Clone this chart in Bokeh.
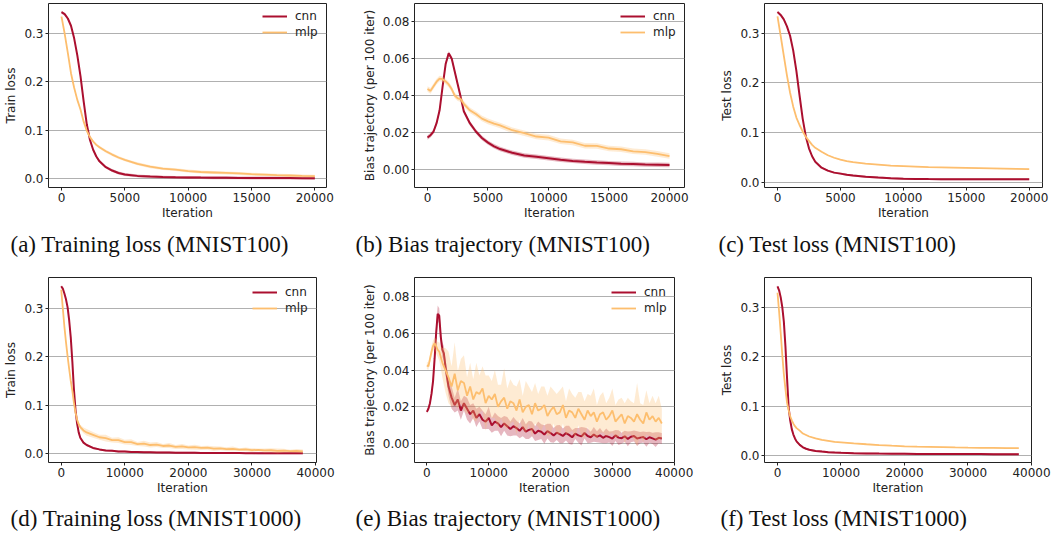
from bokeh.plotting import figure
from bokeh.layouts import column, row
from bokeh.models import Range1d, FixedTicker, NumeralTickFormatter, Title
from bokeh.embed import file_html
from bokeh.resources import INLINE

# ---------------- data ----------------
X100 = [0, 250, 500, 750, 1000, 1250, 1500, 1750, 2000, 2250, 2500, 2750, 3000,
        3500, 4000, 4500, 5000, 5500, 6000,
        7000, 8000, 9000, 10000, 11000, 12000, 13000, 14000, 15000, 16000, 17000, 18000, 19000, 20000]

A_CNN = [0.344, 0.340, 0.331, 0.316, 0.290, 0.255, 0.212, 0.160, 0.112, 0.080, 0.060, 0.046, 0.036,
         0.024, 0.017, 0.012, 0.009, 0.0075, 0.006,
         0.0045, 0.0035, 0.003, 0.0027, 0.0024, 0.0022, 0.002, 0.0018, 0.0017, 0.0016, 0.0015, 0.0014, 0.0013, 0.0012]
A_MLP = [0.335, 0.300, 0.260, 0.218, 0.188, 0.163, 0.143, 0.118, 0.099, 0.086, 0.077, 0.070, 0.065,
         0.057, 0.050, 0.044, 0.039, 0.035, 0.031,
         0.025, 0.021, 0.019, 0.016, 0.014, 0.013, 0.012, 0.011, 0.0095, 0.0085, 0.0075, 0.0068, 0.006, 0.0055]

B_CNN = [0.0173, 0.0185, 0.0205, 0.025, 0.032, 0.045, 0.057, 0.0628, 0.060, 0.053, 0.046, 0.039, 0.0315,
         0.025, 0.0205, 0.017, 0.0145, 0.0125, 0.011,
         0.009, 0.0075, 0.0068, 0.006, 0.0052, 0.0046, 0.0041, 0.0037, 0.0034, 0.0031, 0.0029, 0.0026, 0.0025, 0.0024]
B_MLP = [0.0435, 0.0425, 0.045, 0.0475, 0.0492, 0.0488, 0.0476, 0.046, 0.0435, 0.040, 0.0385, 0.038, 0.0355,
         0.032, 0.030, 0.0275, 0.026, 0.0248, 0.0238,
         0.0212, 0.0196, 0.0178, 0.0172, 0.0152, 0.0146, 0.0128, 0.0127, 0.0113, 0.0109, 0.0098, 0.0094, 0.0084, 0.0072]

C_CNN = [0.343, 0.337, 0.328, 0.314, 0.295, 0.265, 0.224, 0.175, 0.128, 0.092, 0.068, 0.052, 0.041,
         0.029, 0.023, 0.019, 0.017, 0.0145, 0.013,
         0.0105, 0.009, 0.0078, 0.0068, 0.0063, 0.006, 0.0058, 0.0057, 0.0056, 0.0055, 0.0055, 0.0054, 0.0054, 0.0054]
C_MLP = [0.334, 0.295, 0.255, 0.215, 0.180, 0.152, 0.130, 0.115, 0.102, 0.091, 0.083, 0.075, 0.069,
         0.061, 0.054, 0.049, 0.045, 0.042, 0.040,
         0.037, 0.035, 0.033, 0.032, 0.031, 0.030, 0.0295, 0.029, 0.0285, 0.028, 0.0275, 0.027, 0.0265, 0.026]

XD = [0, 250, 500, 750, 1000, 1250, 1500, 1750, 2000, 2250, 2500, 2750, 3000,
      3500, 4000,
      5000, 6000, 7000, 8000, 9000, 10000, 11000, 12000, 13000, 14000,
      15000, 16000, 17000, 18000, 19000, 20000, 21000, 22000, 23000, 24000,
      25000, 26000, 27000, 28000, 29000, 30000, 31000, 32000, 33000, 34000,
      35000, 36000, 37000, 38000]
D_CNN = [0.345, 0.340, 0.330, 0.318, 0.302, 0.275, 0.240, 0.190, 0.132, 0.090, 0.062, 0.044, 0.033,
         0.023, 0.018,
         0.012, 0.009, 0.0068, 0.0062, 0.0048, 0.0047, 0.0038, 0.0037, 0.003, 0.0032,
         0.0028, 0.0026, 0.0024, 0.0022, 0.0021, 0.002, 0.0019, 0.0018, 0.0017, 0.0016,
         0.0015, 0.0015, 0.0014, 0.0014, 0.0013, 0.0013, 0.0012, 0.0012, 0.0012, 0.0011,
         0.0011, 0.0011, 0.001, 0.001]
D_MLP = [0.338, 0.300, 0.262, 0.230, 0.201, 0.175, 0.150, 0.130, 0.105, 0.085, 0.070, 0.061, 0.055,
         0.048, 0.044,
         0.039, 0.034, 0.032, 0.028, 0.028, 0.024, 0.024, 0.020, 0.021, 0.018,
         0.019, 0.016, 0.017, 0.014, 0.015, 0.013, 0.0135, 0.012, 0.0125, 0.0105,
         0.011, 0.0095, 0.010, 0.0085, 0.009, 0.0075, 0.008, 0.0068, 0.0072, 0.006,
         0.0065, 0.0055, 0.006, 0.0048]
D_MLP_SPREAD = [0.001, 0.002, 0.002, 0.002, 0.002, 0.002, 0.003, 0.003, 0.004, 0.004, 0.005, 0.005, 0.005,
                0.006, 0.007,
                0.006, 0.005, 0.007, 0.005, 0.006, 0.005, 0.006, 0.004, 0.006, 0.005,
                0.005, 0.004, 0.005, 0.004, 0.005, 0.004, 0.005, 0.004, 0.004, 0.005,
                0.004, 0.004, 0.005, 0.003, 0.004, 0.004, 0.003, 0.004, 0.004, 0.005,
                0.004, 0.003, 0.004, 0.004]

XE = [0, 250, 500, 750, 1000, 1250, 1500, 1750, 2000, 2250, 2500, 2750, 3000,
      3500, 4000, 4500, 5000, 5500, 6000, 6500, 7000, 7500, 8000,
      8500, 9000, 9500, 10000, 10500, 11000, 11500, 12000, 12500, 13000,
      13500, 14000, 14500, 15000, 15500, 16000, 16500, 17000, 17500, 18000,
      18500, 19000, 19500, 20000, 20500, 21000, 21500, 22000, 22500, 23000,
      23500, 24000, 24500, 25000, 25500, 26000, 26500, 27000, 27500, 28000,
      28500, 29000, 29500, 30000, 30500, 31000, 31500, 32000, 32500, 33000,
      33500, 34000, 34500, 35000, 35500, 36000, 36500, 37000, 37500, 38000]
E_CNN = [0.0173, 0.019, 0.022, 0.027, 0.034, 0.046, 0.060, 0.0705, 0.0695, 0.058, 0.051, 0.049, 0.042,
         0.031, 0.025, 0.021, 0.024, 0.018, 0.022, 0.019, 0.016, 0.018, 0.014,
         0.016, 0.013, 0.012, 0.014, 0.010, 0.012, 0.011, 0.009, 0.011, 0.0095,
         0.008, 0.0095, 0.0085, 0.007, 0.009, 0.0065, 0.0075, 0.008, 0.0055, 0.007,
         0.0065, 0.005, 0.0068, 0.0058, 0.0045, 0.006, 0.0052, 0.0042, 0.0058, 0.0048,
         0.0035, 0.0055, 0.0045, 0.004, 0.0058, 0.0042, 0.0035, 0.005, 0.0038, 0.0045,
         0.0032, 0.0042, 0.0036, 0.0028, 0.0045, 0.0033, 0.003, 0.004, 0.0026, 0.0038,
         0.0042, 0.0028, 0.0033, 0.0036, 0.0024, 0.0035, 0.0029, 0.0022, 0.0032, 0.0028]
E_MLP = [0.0425, 0.042, 0.046, 0.050, 0.053, 0.0545, 0.053, 0.051, 0.050, 0.047, 0.044, 0.042, 0.040,
         0.036, 0.031, 0.038, 0.029, 0.034, 0.033, 0.026, 0.031, 0.024, 0.028,
         0.027, 0.030, 0.022, 0.026, 0.024, 0.027, 0.020, 0.023, 0.025, 0.019,
         0.023, 0.022, 0.018, 0.024, 0.017, 0.020, 0.021, 0.016, 0.022, 0.018,
         0.019, 0.021, 0.015, 0.018, 0.020, 0.016, 0.017, 0.021, 0.014, 0.018,
         0.017, 0.014, 0.019, 0.016, 0.013, 0.018, 0.015, 0.017, 0.012, 0.016,
         0.017, 0.013, 0.015, 0.018, 0.012, 0.014, 0.016, 0.011, 0.015, 0.014,
         0.012, 0.016, 0.013, 0.011, 0.017, 0.013, 0.015, 0.012, 0.014, 0.011]
E_CNN_SPREAD = [0.001, 0.001, 0.0015, 0.002, 0.003, 0.004, 0.005, 0.0045, 0.004, 0.004, 0.004, 0.004, 0.004,
                0.005, 0.006, 0.004, 0.006, 0.005, 0.004, 0.006, 0.005, 0.004, 0.005,
                0.004, 0.005, 0.004, 0.006, 0.004, 0.005, 0.004, 0.005, 0.004, 0.005,
                0.004, 0.005, 0.004, 0.004, 0.005, 0.004, 0.005, 0.004, 0.004, 0.005,
                0.004, 0.005, 0.004, 0.005, 0.004, 0.004, 0.005, 0.004, 0.004, 0.005,
                0.004, 0.003, 0.004, 0.005, 0.003, 0.004, 0.003, 0.004, 0.003, 0.004,
                0.003, 0.004, 0.003, 0.004, 0.003, 0.004, 0.003, 0.003, 0.004, 0.003,
                0.003, 0.004, 0.003, 0.003, 0.004, 0.003, 0.003, 0.004, 0.003, 0.003]
E_MLP_SPREAD = [0.002, 0.002, 0.002, 0.003, 0.003, 0.003, 0.004, 0.004, 0.005, 0.006, 0.008, 0.010, 0.012,
                0.014, 0.011, 0.017, 0.010, 0.012, 0.015, 0.010, 0.013, 0.011, 0.016,
                0.010, 0.012, 0.015, 0.011, 0.010, 0.013, 0.012, 0.009, 0.016, 0.011,
                0.012, 0.010, 0.013, 0.011, 0.009, 0.014, 0.010, 0.012, 0.011, 0.009,
                0.012, 0.010, 0.011, 0.013, 0.009, 0.011, 0.012, 0.010, 0.009, 0.012,
                0.010, 0.011, 0.009, 0.012, 0.010, 0.009, 0.011, 0.013, 0.009, 0.010,
                0.011, 0.009, 0.010, 0.012, 0.009, 0.010, 0.009, 0.011, 0.010, 0.009,
                0.010, 0.017, 0.009, 0.010, 0.012, 0.009, 0.011, 0.010, 0.012, 0.008]

XF = [0, 250, 500, 750, 1000, 1250, 1500, 1750, 2000, 2250, 2500, 2750, 3000,
      3500, 4000, 4500, 5000, 6000, 7000, 8000, 9000, 10000,
      12000, 14000, 16000, 18000, 20000, 22000, 24000, 26000, 28000, 30000, 32000, 34000, 36000, 38000]
F_CNN = [0.344, 0.336, 0.322, 0.302, 0.272, 0.222, 0.158, 0.098, 0.071, 0.053, 0.042, 0.034, 0.028,
         0.021, 0.016, 0.013, 0.011, 0.0085, 0.0072, 0.006, 0.0052, 0.0047,
         0.004, 0.0035, 0.0031, 0.0029, 0.0027, 0.0025, 0.0024, 0.0023, 0.0022, 0.0021, 0.0021, 0.002, 0.002, 0.002]
F_MLP = [0.331, 0.293, 0.250, 0.205, 0.165, 0.135, 0.107, 0.092, 0.079, 0.071, 0.064, 0.059, 0.055,
         0.050, 0.044, 0.041, 0.038, 0.034, 0.031, 0.029, 0.027, 0.026,
         0.024, 0.0222, 0.0205, 0.0192, 0.018, 0.0172, 0.0167, 0.0162, 0.0157, 0.0153, 0.015, 0.0147, 0.0144, 0.0142]

CAPTIONS = ["(a) Training loss (MNIST100)", "(b) Bias trajectory (MNIST100)", "(c) Test loss (MNIST100)",
            "(d) Training loss (MNIST1000)", "(e) Bias trajectory (MNIST1000)", "(f) Test loss (MNIST1000)"]
YLABELS = ["Train loss", "Bias trajectory (per 100 iter)", "Test loss"]
SERIES = ["cnn", "mlp"]

CNN_COLOR = "#ab0f2f"
MLP_COLOR = "#fdbe6e"
FONT = "DejaVu Sans"


def band(vals, spread):
    if isinstance(spread, (int, float)):
        spread = [spread] * len(vals)
    return [v - s for v, s in zip(vals, spread)], [v + s for v, s in zip(vals, spread)]


def panel(x, cnn, mlp, cnn_sp, mlp_sp, ylabel, caption, xr, yr, yticks, yfmt, xticks,
          w, h, bl, br, bt, bb, cap_off, cap_standoff, legend_at):
    p = figure(width=w, height=h, output_backend="svg", toolbar_location=None,
               x_range=Range1d(*xr), y_range=Range1d(*yr),
               min_border_left=bl, min_border_right=br, min_border_top=bt, min_border_bottom=bb,
               background_fill_color="white", border_fill_color="white")
    p.outline_line_color = "#222222"
    p.outline_line_width = 1
    p.xgrid.grid_line_color = None
    p.ygrid.grid_line_color = "#b0b0b0"
    p.ygrid.grid_line_width = 1
    p.ygrid.ticker = FixedTicker(ticks=yticks)
    p.yaxis.ticker = FixedTicker(ticks=yticks)
    p.xaxis.ticker = FixedTicker(ticks=xticks)
    p.yaxis.formatter = NumeralTickFormatter(format=yfmt)
    p.xaxis.formatter = NumeralTickFormatter(format="0")
    for ax in (p.xaxis, p.yaxis):
        ax.axis_line_color = None
        ax.major_tick_out = 3
        ax.major_tick_in = 0
        ax.minor_tick_line_color = None
        ax.major_tick_line_color = "#222222"
        ax.major_label_text_font = FONT
        ax.major_label_text_font_size = "12px"
        ax.major_label_text_color = "#222222"
        ax.axis_label_text_font = FONT
        ax.axis_label_text_font_size = "12px"
        ax.axis_label_text_font_style = "normal"
        ax.axis_label_text_color = "#222222"
        ax.major_label_standoff = 2
    p.xaxis.axis_label = "Iteration"
    p.xaxis.axis_label_standoff = 1
    p.yaxis.axis_label = ylabel
    p.yaxis.axis_label_standoff = 3

    clo, chi = band(cnn, cnn_sp)
    mlo, mhi = band(mlp, mlp_sp)
    p.varea(x=x, y1=clo, y2=chi, fill_color=CNN_COLOR, fill_alpha=0.3)
    kw_c = dict(legend_label=SERIES[0]) if legend_at else {}
    kw_m = dict(legend_label=SERIES[1]) if legend_at else {}
    p.line(x, cnn, line_color=CNN_COLOR, line_width=2, **kw_c)
    p.varea(x=x, y1=mlo, y2=mhi, fill_color=MLP_COLOR, fill_alpha=0.3)
    p.line(x, mlp, line_color=MLP_COLOR, line_width=1.8, **kw_m)
    if legend_at:
        lg = p.legend[0]
        lg.location = legend_at
        lg.border_line_color = None
        lg.background_fill_alpha = 0
        lg.glyph_width = 25
        lg.glyph_height = 16
        lg.label_height = 16
        lg.spacing = 0
        lg.label_standoff = 8
        lg.margin = 0
        lg.padding = 0
        lg.label_text_font = FONT
        lg.label_text_font_size = "12px"
        lg.label_text_color = "#222222"

    cap = Title(text=caption, align="left", offset=cap_off, standoff=cap_standoff,
                text_font="Liberation Serif", text_font_size="23px",
                text_font_style="normal", text_color="#111111")
    p.add_layout(cap, "below")
    return p


YT_LOSS = [0.0, 0.1, 0.2, 0.3]
YT_BIAS = [0.0, 0.02, 0.04, 0.06, 0.08]
XT_100 = [0, 5000, 10000, 15000, 20000]
XT_1000 = [0, 10000, 20000, 30000, 40000]

# row 1: y 0..263, frame 3..188 ; row 2: y 263..537, frame 277..462
pa = panel(X100, A_CNN, A_MLP, 0.003, 0.003, YLABELS[0], CAPTIONS[0], (-1026, 20923), (-0.018, 0.362),
           YT_LOSS, "0.0", XT_100, 350, 263, 48, 24, 3, 75, -38, 14, (214, 147))
pb = panel(X100, B_CNN, B_MLP, 0.0012, 0.0015, YLABELS[1], CAPTIONS[1], (-1074, 21240), (-0.0098, 0.0898),
           YT_BIAS, "0.00", XT_100, 350, 263, 64, 16, 3, 75, -59, 14, (206, 147))
pc = panel(X100, C_CNN, C_MLP, 0.002, 0.001, YLABELS[2], CAPTIONS[2], (-1033, 21057), (-0.011, 0.360),
           YT_LOSS, "0.0", XT_100, 354, 263, 64, 12, 3, 75, -46, 14, None)
pd_ = panel(XD, D_CNN, D_MLP, 0.002, D_MLP_SPREAD, YLABELS[0], CAPTIONS[3], (-2000, 40150), (-0.018, 0.363),
            YT_LOSS, "0.0", XT_1000, 350, 274, 48, 34, 14, 75, -38, 13, (204, 146))
pe = panel(XE, E_CNN, E_MLP, E_CNN_SPREAD, E_MLP_SPREAD, YLABELS[1], CAPTIONS[4], (-2000, 40050), (-0.0102, 0.0902),
           YT_BIAS, "0.00", XT_1000, 350, 274, 64, 26, 14, 75, -59, 13, (197, 146))
pf = panel(XF, F_CNN, F_MLP, 0.002, 0.001, YLABELS[2], CAPTIONS[5], (-2047, 40000), (-0.015, 0.362),
           YT_LOSS, "0.0", XT_1000, 354, 274, 64, 23, 14, 75, -44, 13, None)

layout = column(row(pa, pb, pc), row(pd_, pe, pf))
open("out.html", "w").write(file_html(layout, INLINE))
